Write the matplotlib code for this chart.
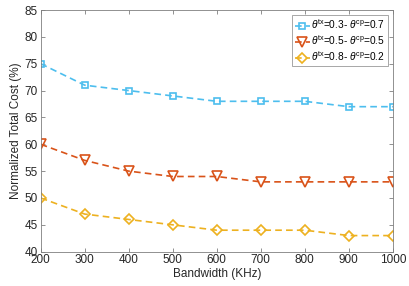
import matplotlib
matplotlib.use("Agg")
import matplotlib.pyplot as plt

plt.rcParams['font.family'] = ['Liberation Sans', 'DejaVu Sans']
plt.rcParams['mathtext.fontset'] = 'custom'
plt.rcParams['mathtext.rm'] = 'Liberation Sans'
plt.rcParams['mathtext.it'] = 'Liberation Sans:italic'

bandwidth = [200, 300, 400, 500, 600, 700, 800, 900, 1000]
cost_a = [75, 71, 70, 69, 68, 68, 68, 67, 67]
cost_b = [60, 57, 55, 54, 54, 53, 53, 53, 53]
cost_c = [50, 47, 46, 45, 44, 44, 44, 43, 43]
labels = [r'$\theta^{\rm tx}$=0.3- $\theta^{\rm cp}$=0.7',
          r'$\theta^{\rm tx}$=0.5- $\theta^{\rm cp}$=0.5',
          r'$\theta^{\rm tx}$=0.8- $\theta^{\rm cp}$=0.2']

fig = plt.figure(figsize=(4.09, 2.86), dpi=100)
ax = fig.add_axes([0.0995, 0.12, 0.861, 0.845])

dash = (4, 2.5)
ax.plot(bandwidth, cost_a, '--s', color='#4DBEEE', mfc='none', ms=4.8, mew=1.2,
        lw=1.2, dashes=dash, label=labels[0])
ax.plot(bandwidth, cost_b, '--v', color='#D95319', mfc='none', ms=6.5, mew=1.2,
        lw=1.2, dashes=dash, label=labels[1])
ax.plot(bandwidth, cost_c, '--D', color='#EDB120', mfc='none', ms=4.8, mew=1.2,
        lw=1.2, dashes=dash, label=labels[2])

ax.set_xlim(200, 1000)
ax.set_ylim(40, 85)
ax.set_xticks(range(200, 1001, 100))
ax.set_yticks(range(40, 86, 5))
ax.set_xlabel('Bandwidth (KHz)', fontsize=8.5, color='#262626', labelpad=1)
ax.set_ylabel('Normalized Total Cost (%)', fontsize=8.5, color='#262626', labelpad=2)
ax.tick_params(direction='in', top=True, right=True, labelsize=8.5,
               labelcolor='#262626', color='#7f7f7f', length=3, width=0.6, pad=2)
for s in ax.spines.values():
    s.set_color('#7f7f7f')
    s.set_linewidth(0.6)

leg = ax.legend(loc='upper right', fontsize=7.3, frameon=True, fancybox=False,
                edgecolor='#7f7f7f', borderpad=0.25, labelspacing=0.2,
                handlelength=1.5, handletextpad=0.15, borderaxespad=0.5)
leg.get_frame().set_linewidth(0.6)

fig.savefig('out.png', dpi=100)
